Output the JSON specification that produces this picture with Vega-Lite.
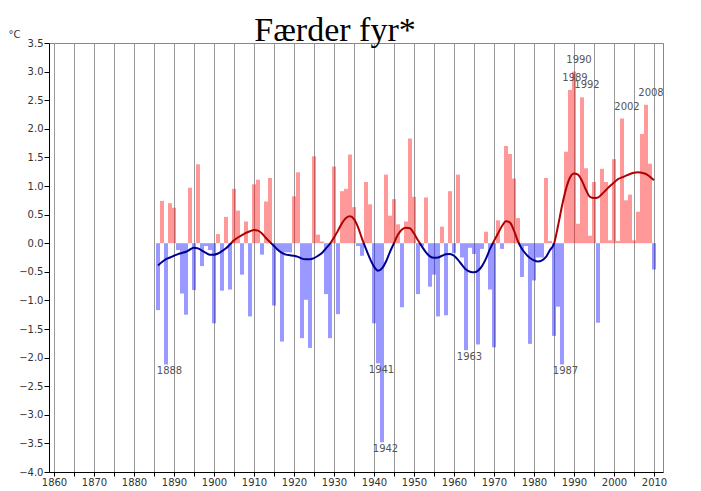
{
  "$schema": "https://vega.github.io/schema/vega-lite/v6.json",
  "width": 614,
  "height": 429,
  "autosize": "none",
  "padding": {"left": 49, "top": 43, "right": 38, "bottom": 19},
  "background": "white",
  "config": {
    "view": {"stroke": "#888888", "strokeWidth": 1},
    "font": "DejaVu Sans"
  },
  "title": {
    "text": "Færder fyr*",
    "font": "Liberation Serif",
    "fontSize": 34,
    "fontWeight": "normal",
    "color": "#000000",
    "anchor": "middle",
    "baseline": "alphabetic",
    "dx": -21,
    "dy": 50,
    "offset": 4
  },
  "datasets": {
    "bars": [
      {"year": 1886, "v": -1.17}, {"year": 1887, "v": 0.74}, {"year": 1888, "v": -2.12}, {"year": 1889, "v": 0.70}, {"year": 1890, "v": 0.62},
      {"year": 1891, "v": -0.12}, {"year": 1892, "v": -0.88}, {"year": 1893, "v": -1.25}, {"year": 1894, "v": 0.97}, {"year": 1895, "v": -0.82},
      {"year": 1896, "v": 1.38}, {"year": 1897, "v": -0.40}, {"year": 1898, "v": -0.05}, {"year": 1899, "v": -0.12}, {"year": 1900, "v": -1.40},
      {"year": 1901, "v": 0.16}, {"year": 1902, "v": -0.83}, {"year": 1903, "v": 0.46}, {"year": 1904, "v": -0.81}, {"year": 1905, "v": 0.95},
      {"year": 1906, "v": 0.57}, {"year": 1907, "v": -0.55}, {"year": 1908, "v": 0.38}, {"year": 1909, "v": -1.28}, {"year": 1910, "v": 1.03},
      {"year": 1911, "v": 1.11}, {"year": 1912, "v": -0.20}, {"year": 1913, "v": 0.73}, {"year": 1914, "v": 1.14}, {"year": 1915, "v": -1.09},
      {"year": 1916, "v": -0.12}, {"year": 1917, "v": -1.72}, {"year": 1918, "v": -0.16}, {"year": 1919, "v": -0.16}, {"year": 1920, "v": 0.82},
      {"year": 1921, "v": 1.24}, {"year": 1922, "v": -1.66}, {"year": 1923, "v": -0.99}, {"year": 1924, "v": -1.83}, {"year": 1925, "v": 1.52},
      {"year": 1926, "v": 0.15}, {"year": 1927, "v": 0.03}, {"year": 1928, "v": -0.89}, {"year": 1929, "v": -1.66}, {"year": 1930, "v": 1.34},
      {"year": 1931, "v": -1.24}, {"year": 1932, "v": 0.91}, {"year": 1933, "v": 0.95}, {"year": 1934, "v": 1.55}, {"year": 1935, "v": 0.63},
      {"year": 1936, "v": -0.05}, {"year": 1937, "v": -0.22}, {"year": 1938, "v": 1.07}, {"year": 1939, "v": 0.68}, {"year": 1940, "v": -1.40},
      {"year": 1941, "v": -2.10}, {"year": 1942, "v": -3.48}, {"year": 1943, "v": 1.20}, {"year": 1944, "v": 0.48}, {"year": 1945, "v": 0.77},
      {"year": 1946, "v": 0.33}, {"year": 1947, "v": -1.12}, {"year": 1948, "v": 0.38}, {"year": 1949, "v": 1.83}, {"year": 1950, "v": 0.81},
      {"year": 1951, "v": -0.89}, {"year": 1952, "v": -0.05}, {"year": 1953, "v": 0.80}, {"year": 1954, "v": -0.76}, {"year": 1955, "v": -0.55},
      {"year": 1956, "v": -1.28}, {"year": 1957, "v": 0.29}, {"year": 1958, "v": -1.26}, {"year": 1959, "v": 0.91}, {"year": 1960, "v": -0.17},
      {"year": 1961, "v": 1.20}, {"year": 1962, "v": -0.25}, {"year": 1963, "v": -1.87}, {"year": 1964, "v": -0.08}, {"year": 1965, "v": -0.19},
      {"year": 1966, "v": -1.77}, {"year": 1967, "v": -0.10}, {"year": 1968, "v": 0.20}, {"year": 1969, "v": -0.81}, {"year": 1970, "v": -1.82},
      {"year": 1971, "v": 0.40}, {"year": 1972, "v": -0.10}, {"year": 1973, "v": 1.70}, {"year": 1974, "v": 1.56}, {"year": 1975, "v": 1.13},
      {"year": 1976, "v": 0.44}, {"year": 1977, "v": -0.59}, {"year": 1978, "v": -0.05}, {"year": 1979, "v": -1.76}, {"year": 1980, "v": -0.65},
      {"year": 1981, "v": -0.25}, {"year": 1982, "v": -0.25}, {"year": 1983, "v": 1.14}, {"year": 1984, "v": 0.04}, {"year": 1985, "v": -1.62},
      {"year": 1986, "v": -1.11}, {"year": 1987, "v": -2.12}, {"year": 1988, "v": 1.60}, {"year": 1989, "v": 2.68}, {"year": 1990, "v": 3.00},
      {"year": 1991, "v": 0.34}, {"year": 1992, "v": 2.55}, {"year": 1993, "v": 1.31}, {"year": 1994, "v": 0.13}, {"year": 1995, "v": 1.07},
      {"year": 1996, "v": -1.39}, {"year": 1997, "v": 1.30}, {"year": 1998, "v": 1.07}, {"year": 1999, "v": 0.05}, {"year": 2000, "v": 1.47},
      {"year": 2001, "v": 0.04}, {"year": 2002, "v": 2.18}, {"year": 2003, "v": 0.75}, {"year": 2004, "v": 0.85}, {"year": 2005, "v": 0.05},
      {"year": 2006, "v": 0.55}, {"year": 2007, "v": 1.91}, {"year": 2008, "v": 2.42}, {"year": 2009, "v": 1.39}, {"year": 2010, "v": -0.46}
    ],
    "curve": [
      {"year": 1886, "s": -0.39}, {"year": 1887, "s": -0.33}, {"year": 1888, "s": -0.28}, {"year": 1889, "s": -0.25}, {"year": 1890, "s": -0.22},
      {"year": 1891, "s": -0.19}, {"year": 1892, "s": -0.17}, {"year": 1893, "s": -0.15}, {"year": 1894, "s": -0.11}, {"year": 1895, "s": -0.08},
      {"year": 1896, "s": -0.09}, {"year": 1897, "s": -0.13}, {"year": 1898, "s": -0.17}, {"year": 1899, "s": -0.20}, {"year": 1900, "s": -0.20},
      {"year": 1901, "s": -0.18}, {"year": 1902, "s": -0.14}, {"year": 1903, "s": -0.09}, {"year": 1904, "s": -0.02}, {"year": 1905, "s": 0.05},
      {"year": 1906, "s": 0.10}, {"year": 1907, "s": 0.14}, {"year": 1908, "s": 0.18}, {"year": 1909, "s": 0.21}, {"year": 1910, "s": 0.23},
      {"year": 1911, "s": 0.22}, {"year": 1912, "s": 0.17}, {"year": 1913, "s": 0.09}, {"year": 1914, "s": 0.02}, {"year": 1915, "s": -0.05},
      {"year": 1916, "s": -0.12}, {"year": 1917, "s": -0.17}, {"year": 1918, "s": -0.20}, {"year": 1919, "s": -0.21}, {"year": 1920, "s": -0.22},
      {"year": 1921, "s": -0.24}, {"year": 1922, "s": -0.27}, {"year": 1923, "s": -0.28}, {"year": 1924, "s": -0.28}, {"year": 1925, "s": -0.26},
      {"year": 1926, "s": -0.22}, {"year": 1927, "s": -0.17}, {"year": 1928, "s": -0.09}, {"year": 1929, "s": -0.01}, {"year": 1930, "s": 0.10},
      {"year": 1931, "s": 0.22}, {"year": 1932, "s": 0.35}, {"year": 1933, "s": 0.44}, {"year": 1934, "s": 0.47}, {"year": 1935, "s": 0.42},
      {"year": 1936, "s": 0.28}, {"year": 1937, "s": 0.08}, {"year": 1938, "s": -0.10}, {"year": 1939, "s": -0.27}, {"year": 1940, "s": -0.41},
      {"year": 1941, "s": -0.48}, {"year": 1942, "s": -0.44}, {"year": 1943, "s": -0.32}, {"year": 1944, "s": -0.15}, {"year": 1945, "s": 0.00},
      {"year": 1946, "s": 0.15}, {"year": 1947, "s": 0.24}, {"year": 1948, "s": 0.27}, {"year": 1949, "s": 0.26}, {"year": 1950, "s": 0.17},
      {"year": 1951, "s": 0.05}, {"year": 1952, "s": -0.06}, {"year": 1953, "s": -0.16}, {"year": 1954, "s": -0.23}, {"year": 1955, "s": -0.255},
      {"year": 1956, "s": -0.25}, {"year": 1957, "s": -0.22}, {"year": 1958, "s": -0.195}, {"year": 1959, "s": -0.19}, {"year": 1960, "s": -0.22},
      {"year": 1961, "s": -0.29}, {"year": 1962, "s": -0.38}, {"year": 1963, "s": -0.46}, {"year": 1964, "s": -0.50}, {"year": 1965, "s": -0.51},
      {"year": 1966, "s": -0.48}, {"year": 1967, "s": -0.40}, {"year": 1968, "s": -0.27}, {"year": 1969, "s": -0.10}, {"year": 1970, "s": 0.04},
      {"year": 1971, "s": 0.17}, {"year": 1972, "s": 0.30}, {"year": 1973, "s": 0.385}, {"year": 1974, "s": 0.36}, {"year": 1975, "s": 0.22},
      {"year": 1976, "s": 0.03}, {"year": 1977, "s": -0.10}, {"year": 1978, "s": -0.19}, {"year": 1979, "s": -0.26}, {"year": 1980, "s": -0.30},
      {"year": 1981, "s": -0.32}, {"year": 1982, "s": -0.30}, {"year": 1983, "s": -0.24}, {"year": 1984, "s": -0.12}, {"year": 1985, "s": -0.01},
      {"year": 1986, "s": 0.30}, {"year": 1987, "s": 0.65}, {"year": 1988, "s": 0.95}, {"year": 1989, "s": 1.15}, {"year": 1990, "s": 1.22},
      {"year": 1991, "s": 1.20}, {"year": 1992, "s": 1.09}, {"year": 1993, "s": 0.93}, {"year": 1994, "s": 0.81}, {"year": 1995, "s": 0.79},
      {"year": 1996, "s": 0.80}, {"year": 1997, "s": 0.86}, {"year": 1998, "s": 0.93}, {"year": 1999, "s": 1.00}, {"year": 2000, "s": 1.06},
      {"year": 2001, "s": 1.12}, {"year": 2002, "s": 1.15}, {"year": 2003, "s": 1.18}, {"year": 2004, "s": 1.21}, {"year": 2005, "s": 1.23},
      {"year": 2006, "s": 1.24}, {"year": 2007, "s": 1.23}, {"year": 2008, "s": 1.21}, {"year": 2009, "s": 1.16}, {"year": 2010, "s": 1.10}
    ],
    "lowLabels": [
      {"year": 1888, "v": -2.12, "label": "1888"},
      {"year": 1941, "v": -2.10, "label": "1941"},
      {"year": 1942, "v": -3.48, "label": "1942"},
      {"year": 1963, "v": -1.87, "label": "1963"},
      {"year": 1987, "v": -2.12, "label": "1987"}
    ],
    "highLabels": [
      {"year": 1989, "v": 2.68, "label": "1989"},
      {"year": 1990, "v": 3.00, "label": "1990"},
      {"year": 1992, "v": 2.55, "label": "1992"},
      {"year": 2002, "v": 2.18, "label": "2002"},
      {"year": 2008, "v": 2.42, "label": "2008"}
    ]
  },
  "encoding": {
    "x": {
      "field": "year",
      "type": "quantitative",
      "scale": {"domain": [1860, 2011], "nice": false, "zero": false},
      "axis": {
        "title": null,
        "values": [1860, 1865, 1870, 1875, 1880, 1885, 1890, 1895, 1900, 1905, 1910, 1915, 1920, 1925, 1930, 1935, 1940, 1945, 1950, 1955, 1960, 1965, 1970, 1975, 1980, 1985, 1990, 1995, 2000, 2005, 2010],
        "format": "d",
        "labelExpr": "datum.value % 10 == 0 ? datum.label : ''",
        "grid": true,
        "gridColor": "#999999",
        "gridWidth": 1,
        "domainColor": "#000000",
        "tickColor": "#000000",
        "tickSize": 4,
        "labelFont": "DejaVu Sans",
        "labelFontSize": 10,
        "labelColor": "#333333",
        "labelPadding": 1,
        "labelFlush": false,
        "labelOverlap": false
      }
    },
    "y": {
      "field": "v",
      "type": "quantitative",
      "scale": {"domain": [-4, 3.5], "nice": false},
      "axis": {
        "title": "°C",
        "titleAngle": 0,
        "titleAlign": "left",
        "titleBaseline": "alphabetic",
        "titleX": -41,
        "titleY": -6,
        "titleFont": "DejaVu Sans",
        "titleFontSize": 10,
        "titleFontWeight": "normal",
        "titleColor": "#333333",
        "values": [-4, -3.5, -3, -2.5, -2, -1.5, -1, -0.5, 0, 0.5, 1, 1.5, 2, 2.5, 3, 3.5],
        "format": ".1f",
        "grid": false,
        "domainColor": "#000000",
        "tickColor": "#000000",
        "tickSize": 5,
        "labelFont": "DejaVu Sans",
        "labelFontSize": 10,
        "labelColor": "#333333",
        "labelPadding": 1,
        "labelFlush": false,
        "labelOverlap": false
      }
    }
  },
  "layer": [
    {
      "data": {"name": "bars"},
      "mark": {"type": "bar", "size": 4, "opacity": 0.4},
      "encoding": {
        "color": {"condition": {"test": "datum.v >= 0", "value": "#ff0000"}, "value": "#0000ff"}
      }
    },
    {
      "data": {"values": [{}]},
      "mark": {"type": "rule", "color": "#808080", "strokeWidth": 3, "clip": false},
      "encoding": {
        "x": {"datum": 1860, "type": "quantitative"},
        "x2": {"datum": 2012},
        "y": {"datum": 0, "type": "quantitative"}
      }
    },
    {
      "data": {"values": [{}]},
      "mark": {"type": "rule", "color": "#000000", "strokeWidth": 1},
      "encoding": {
        "x": {"datum": 2011, "type": "quantitative"}
      }
    },
    {
      "data": {"name": "curve"},
      "mark": {
        "type": "line",
        "interpolate": "monotone",
        "strokeWidth": 2,
        "stroke": {
          "gradient": "linear",
          "x1": 0, "y1": 0, "x2": 0, "y2": 1,
          "stops": [
            {"offset": 0, "color": "#b00000"},
            {"offset": 0.7086, "color": "#b00000"},
            {"offset": 0.7086, "color": "#000090"},
            {"offset": 1, "color": "#000090"}
          ]
        }
      },
      "encoding": {
        "y": {"field": "s", "type": "quantitative"}
      }
    },
    {
      "data": {"name": "lowLabels"},
      "mark": {"type": "text", "baseline": "top", "align": "center", "dx": 3.5, "dy": 1.5, "font": "DejaVu Sans", "fontSize": 10, "color": "#555555"},
      "encoding": {"text": {"field": "label"}}
    },
    {
      "data": {"name": "highLabels"},
      "mark": {"type": "text", "baseline": "bottom", "align": "center", "dx": 5, "dy": -7, "font": "DejaVu Sans", "fontSize": 10, "color": "#555555", "clip": true},
      "encoding": {"text": {"field": "label"}}
    },
    {
      "data": {"values": [{}]},
      "mark": {"type": "text", "align": "left", "baseline": "middle", "dx": 2, "font": "DejaVu Sans", "fontSize": 10, "color": "#666666"},
      "encoding": {
        "x": {"datum": 2012, "type": "quantitative"},
        "y": {"datum": 0, "type": "quantitative"},
        "text": {"value": "6,4 °C"}
      }
    }
  ]
}
